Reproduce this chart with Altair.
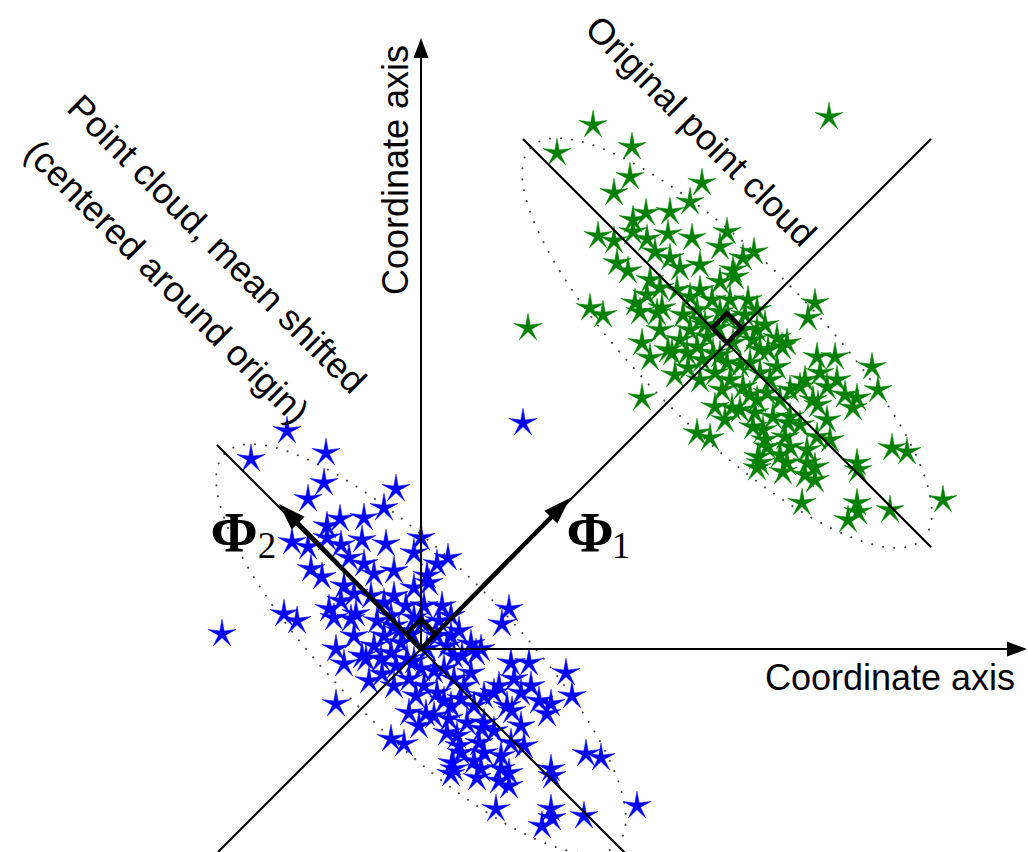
import numpy as np
import pandas as pd
import altair as alt

# ---------------------------------------------------------------------------
# Original two-feature point cloud
# ---------------------------------------------------------------------------
orig_x = [1.72, 1.36, 2.11, 2.09, 1.93, 2.81, 2.69, 4.08, 2.25, 2.12,
          2.49, 1.77, 1.93, 2.12, 2.26, 2.47, 2.71, 3.06, 2.99, 3.22,
          3.33, 2.34, 2.49, 1.96, 2.07, 2.59, 3.12, 2.99, 3.14, 1.69,
          1.82, 2.14, 2.26, 2.39, 2.41, 2.56, 2.69, 2.91, 3.09, 3.27,
          3.36, 2.36, 2.62, 2.76, 2.21, 2.29, 2.47, 2.59, 2.69, 2.76,
          2.86, 2.92, 3.12, 3.22, 3.32, 3.29, 3.06, 1.07, 2.19, 2.51,
          2.54, 2.67, 2.81, 2.94, 2.21, 2.76, 2.89, 2.94, 3.01, 3.04,
          3.94, 3.87, 3.66, 3.56, 3.36, 2.66, 3.39, 3.56, 3.96, 4.14,
          3.99, 4.16, 4.06, 4.32, 3.92, 3.79, 3.69, 3.39, 3.22, 3.11,
          3.36, 3.46, 3.52, 3.69, 4.06, 3.32, 3.42, 3.69, 4.09, 3.96,
          3.86, 3.46, 3.39, 3.66, 3.86, 3.07, 3.61, 3.47, 4.51, 4.57,
          3.84, 3.97, 4.36, 3.67, 3.34, 3.44, 3.64, 3.37, 3.36, 3.62,
          3.94, 3.84, 3.94, 4.36, 4.37, 4.71, 4.86, 5.22, 3.81, 4.36,
          4.37, 4.27, 4.69, 3.09, 2.79, 2.97,
          2.79, 2.99, 3.24, 2.84, 3.44, 2.99, 3.19, 2.79, 3.29, 3.59,
          3.49, 2.39, 2.29, 2.79, 3.19, 3.79, 3.59, 4.24]
orig_y = [5.24, 4.96, 5.02, 4.72, 4.56, 4.66, 4.47, 5.32, 4.36, 4.29,
          4.37, 4.13, 4.08, 4.17, 4.10, 4.15, 4.11, 4.17, 4.02, 3.91,
          3.97, 3.97, 3.91, 3.86, 3.78, 3.81, 3.79, 3.67, 3.72, 3.41,
          3.34, 3.46, 3.54, 3.61, 3.41, 3.59, 3.52, 3.49, 3.49, 3.49,
          3.39, 3.36, 3.34, 3.39, 3.06, 2.91, 2.99, 3.09, 3.19, 3.02,
          3.12, 2.96, 3.06, 3.19, 3.09, 2.86, 2.86, 3.21, 3.37, 2.96,
          2.74, 2.81, 2.89, 2.76, 2.51, 2.16, 2.11, 2.42, 2.59, 2.29,
          3.46, 3.31, 3.06, 3.11, 3.19, 2.96, 2.99, 2.82, 2.92, 2.92,
          2.76, 2.69, 2.62, 2.41, 2.49, 2.62, 2.59, 2.76, 2.62, 2.41,
          2.49, 2.56, 2.32, 2.32, 2.29, 2.22, 2.19, 2.02, 2.09, 2.12,
          1.99, 2.02, 1.86, 1.86, 1.86, 3.32, 3.02, 2.99, 2.82, 2.59,
          2.69, 2.44, 2.51, 2.26, 2.36, 2.09, 2.12, 1.92, 1.81, 1.77,
          1.82, 1.74, 1.69, 1.86, 1.79, 2.01, 1.97, 1.49, 1.46, 1.46,
          1.37, 1.29, 1.39, 2.69, 3.29, 3.21,
          3.59, 3.37, 3.34, 3.24, 3.24, 2.94, 2.84, 2.69, 2.54, 2.49,
          2.69, 3.19, 3.69, 3.84, 2.39, 2.24, 1.94, 2.54]

# Mean of the original cloud (where its principal axes cross)
cloud_mean = (3.06, 3.06)

# Principal-axis geometry
pc1_line = [(-2.03, -2.03), (5.10, 5.10)]   # shared first-axis line
pc2_half = 2.04                              # half-length of second-axis lines
phi1_tip = (1.49, 1.51)
phi2_tip = (-1.42, 1.45)
ellipse_semi = (2.77, 0.85)                  # along PC2, along PC1

# Coordinate axes
x_axis_tip = 6.06
y_axis_tip = 6.11

X_DOMAIN = [-4.21, 6.07]
Y_DOMAIN = [-2.03, 6.49]
W, H = 1028, 852

xs = alt.Scale(domain=X_DOMAIN, nice=False, zero=False)
ys = alt.Scale(domain=Y_DOMAIN, nice=False, zero=False)


def enc_x(f="x"):
    return alt.X(f"{f}:Q", scale=xs, axis=None)


def enc_y(f="y"):
    return alt.Y(f"{f}:Q", scale=ys, axis=None)


# ---------------------------------------------------------------------------
# Point clouds: original and mean-shifted
# ---------------------------------------------------------------------------
cx, cy = cloud_mean
pts = pd.concat([
    pd.DataFrame({"x": orig_x, "y": orig_y, "cloud": "original"}),
    pd.DataFrame({"x": [v - cx for v in orig_x],
                  "y": [v - cy for v in orig_y], "cloud": "centered"}),
], ignore_index=True)


def star_path(inner=0.3):
    verts = []
    for k in range(10):
        a = np.deg2rad(-90 + 36 * k)
        r = 1.0 if k % 2 == 0 else inner
        verts.append(f"{r * np.cos(a):.4f},{r * np.sin(a):.4f}")
    return "M" + " L".join(verts) + " Z"


cloud_colors = alt.Scale(domain=["original", "centered"], range=["#008000", "#0000ff"])
stars = alt.Chart(pts).mark_point(
    shape=star_path(0.25), size=880, filled=True, opacity=1,
    strokeWidth=0.5,
).encode(
    x=enc_x(), y=enc_y(),
    color=alt.Color("cloud:N", legend=None, scale=cloud_colors),
    stroke=alt.Stroke("cloud:N", legend=None, scale=cloud_colors),
)

# ---------------------------------------------------------------------------
# Dotted spread ellipses around both clouds
# ---------------------------------------------------------------------------
u = np.array([0.70710678, -0.70710678])   # PC2 direction
v = np.array([0.70710678, 0.70710678])    # PC1 direction
t = np.linspace(0, 2 * np.pi, 361)
ell_rows = []
for name, (ox, oy) in [("original", cloud_mean), ("centered", (0.0, 0.0))]:
    for i, tt in enumerate(t):
        p = ellipse_semi[0] * np.cos(tt) * u + ellipse_semi[1] * np.sin(tt) * v
        ell_rows.append({"x": ox + p[0], "y": oy + p[1], "cloud": name, "i": i})
ellipses = alt.Chart(pd.DataFrame(ell_rows)).mark_line(
    color="#444444", strokeWidth=2, strokeDash=[0.1, 11], strokeCap="round",
).encode(x=enc_x(), y=enc_y(), detail="cloud:N", order="i:Q")

# ---------------------------------------------------------------------------
# Thin lines: principal axes and coordinate axes
# ---------------------------------------------------------------------------
head_gap = 0.10
thin = pd.DataFrame([
    {"x": pc1_line[0][0], "y": pc1_line[0][1], "x2": pc1_line[1][0], "y2": pc1_line[1][1]},
    {"x": -pc2_half, "y": pc2_half, "x2": pc2_half, "y2": -pc2_half},
    {"x": cx - pc2_half, "y": cy + pc2_half, "x2": cx + pc2_half, "y2": cy - pc2_half},
])
axes = pd.DataFrame([
    {"x": 0.0, "y": 0.0, "x2": 0.0, "y2": y_axis_tip - head_gap},
    {"x": 0.0, "y": 0.0, "x2": x_axis_tip - head_gap, "y2": 0.0},
])
thin_lines = alt.Chart(thin).mark_rule(color="black", strokeWidth=2.2).encode(
    x=enc_x(), y=enc_y(), x2="x2:Q", y2="y2:Q")
axis_lines = alt.Chart(axes).mark_rule(color="black", strokeWidth=2).encode(
    x=enc_x(), y=enc_y(), x2="x2:Q", y2="y2:Q")


# Basis-vector shafts, stopped short of the tip so the head covers the end
def shaft_end(tip, gap=0.12):
    n = np.hypot(*tip)
    return tip[0] * (1 - gap / n), tip[1] * (1 - gap / n)


e1, e2 = shaft_end(phi1_tip), shaft_end(phi2_tip)
shafts = alt.Chart(pd.DataFrame([
    {"x": 0.0, "y": 0.0, "x2": e1[0], "y2": e1[1]},
    {"x": 0.0, "y": 0.0, "x2": e2[0], "y2": e2[1]},
])).mark_rule(color="black", strokeWidth=4.5).encode(
    x=enc_x(), y=enc_y(), x2="x2:Q", y2="y2:Q")

# Arrowheads (path tip sits at the anchor point)
big_head = "M0,0 L0.67,2 L-0.67,2 Z"
small_head = "M0,0 L0.75,2 L-0.75,2 Z"
phi_heads = alt.Chart(pd.DataFrame([
    {"x": phi1_tip[0], "y": phi1_tip[1], "angle": 45},
    {"x": phi2_tip[0], "y": phi2_tip[1], "angle": 315},
])).mark_point(shape=big_head, size=729, filled=True, color="black", opacity=1).encode(
    x=enc_x(), y=enc_y(), angle=alt.Angle("angle:Q", scale=None))
axis_heads = alt.Chart(pd.DataFrame([
    {"x": 0.0, "y": y_axis_tip, "angle": 0},
    {"x": x_axis_tip, "y": 0.0, "angle": 90},
])).mark_point(shape=small_head, size=400, filled=True, color="black", opacity=1).encode(
    x=enc_x(), y=enc_y(), angle=alt.Angle("angle:Q", scale=None))

# Right-angle markers at both cloud centres
diamonds = alt.Chart(pd.DataFrame([
    {"x": 0.0, "y": 0.15},
    {"x": cx, "y": cy + 0.15},
])).mark_point(shape="square", size=441, angle=45, filled=False, fillOpacity=0,
               stroke="black", strokeWidth=4.5, strokeOpacity=1).encode(
    x=enc_x(), y=enc_y())

# ---------------------------------------------------------------------------
# Labels
# ---------------------------------------------------------------------------
FONT = "Liberation Sans"


def label(x, y, text, angle=0, baseline="middle", align="center", size=36):
    return alt.Chart(pd.DataFrame([{"x": x, "y": y, "t": text}])).mark_text(
        font=FONT, fontSize=size, angle=angle, baseline=baseline, align=align,
        color="black",
    ).encode(x=enc_x(), y=enc_y(), text="t:N")


labels = [
    label(4.69, -0.41, "Coordinate axis", baseline="alphabetic"),
    label(-0.13, 4.79, "Coordinate axis", angle=270, baseline="alphabetic"),
    label(2.79, 5.17, "Original point cloud", angle=45),
    label(-2.05, 4.04, "Point cloud, mean shifted", angle=45),
    label(-2.55, 3.665, "(centered around origin)", angle=45),
]

phi_sym = alt.Chart(pd.DataFrame([
    {"x": 1.69, "y": 0.97, "t": "Φ"},
    {"x": -1.87, "y": 0.97, "t": "Φ"},
])).mark_text(font="Liberation Serif", fontWeight="bold", fontSize=57,
              baseline="alphabetic", align="center", color="black").encode(
    x=enc_x(), y=enc_y(), text="t:N")
phi_sub = alt.Chart(pd.DataFrame([
    {"x": 2.00, "y": 0.91, "t": "1"},
    {"x": -1.54, "y": 0.91, "t": "2"},
])).mark_text(font="Liberation Serif", fontSize=37,
              baseline="alphabetic", align="center", color="black").encode(
    x=enc_x(), y=enc_y(), text="t:N")

chart = alt.layer(
    ellipses, stars, thin_lines, axis_lines, shafts, phi_heads, axis_heads,
    diamonds, *labels, phi_sym, phi_sub,
).properties(
    width=W, height=H, padding=0, autosize=alt.AutoSizeParams(type="none"),
    background="white",
).configure_view(stroke=None)

chart.save("out.html", embed_options={"renderer": "svg", "actions": False})
